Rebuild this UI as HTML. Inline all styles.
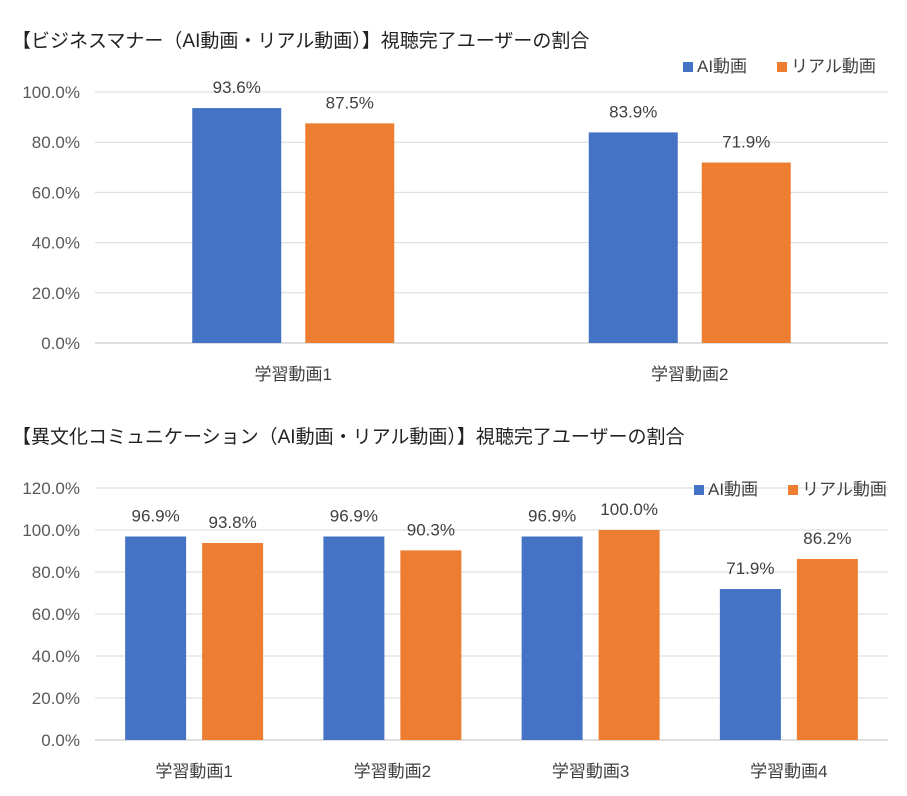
<!DOCTYPE html>
<html><head><meta charset="utf-8">
<style>
body{margin:0;background:#fff;width:907px;height:791px;overflow:hidden;font-family:"Liberation Sans","Noto Sans CJK JP",sans-serif;}
svg text{font-family:"Liberation Sans","Noto Sans CJK JP",sans-serif;}
</style></head>
<body>
<svg id="svg" width="907" height="791" xmlns="http://www.w3.org/2000/svg">
<text x="12" y="47" font-size="19" fill="#222">【ビジネスマナー（AI動画・リアル動画）】視聴完了ユーザーの割合</text>
<text x="12" y="443" font-size="19" fill="#222">【異文化コミュニケーション（AI動画・リアル動画）】視聴完了ユーザーの割合</text>
<g id="c1"></g>
<g id="c2"></g>
</svg>
<script>
const cats1=["学習動画1","学習動画2"];
const ai1=[93.6,83.9];
const real1=[87.5,71.9];
const ticks1=[0,20,40,60,80,100];
const cats2=["学習動画1","学習動画2","学習動画3","学習動画4"];
const ai2=[96.9,96.9,96.9,71.9];
const real2=[93.8,90.3,100.0,86.2];
const ticks2=[0,20,40,60,80,100,120];
const NS="http://www.w3.org/2000/svg";
function mk(g,t,a,txt){const e=document.createElementNS(NS,t);for(const k in a)e.setAttribute(k,a[k]);if(txt!==undefined)e.textContent=txt;g.appendChild(e);return e;}
function chart(g,cats,ai,real,ticks,o){
  const x0=95,x1=888,yv=v=>o.y0-(v/o.max)*(o.y0-o.yTop);
  ticks.forEach(t=>{
    const l=mk(g,"line",{x1:x0,x2:x1,y1:yv(t),y2:yv(t),stroke:t===0?"#bfbfbf":"#d9d9d9","stroke-width":1});
    
    const tx=mk(g,"text",{x:80,y:yv(t)+6,"text-anchor":"end","font-size":17,fill:"#595959"},t.toFixed(1)+"%");
    
  });
  const cw=(x1-x0)/cats.length;
  cats.forEach((c,i)=>{
    const cx=x0+cw*(i+0.5);
    [[ai[i],"#4472C4",cx-o.gap/2-o.bw],[real[i],"#ED7D31",cx+o.gap/2]].forEach(([v,col,bx],j)=>{
      const r=mk(g,"rect",{x:bx,y:yv(v),width:o.bw,height:o.y0-yv(v),fill:col});
      
      const t=mk(g,"text",{x:bx+o.bw/2,y:yv(v)-15,"text-anchor":"middle","font-size":17,fill:"#404040"},v.toFixed(1)+"%");
      
    });
    const cl=mk(g,"text",{x:cx,y:o.y0+37,"text-anchor":"middle","font-size":17,fill:"#404040"},c);
    
  });
  const lg=mk(g,"g",{});
  
  mk(lg,"rect",{x:o.lx,y:o.ly-10,width:10,height:10,fill:"#4472C4"});
  mk(lg,"text",{x:o.lx+14,y:o.ly,"font-size":17,fill:"#404040"},"AI動画");
  mk(lg,"rect",{x:o.lx+94,y:o.ly-10,width:10,height:10,fill:"#ED7D31"});
  mk(lg,"text",{x:o.lx+108,y:o.ly,"font-size":17,fill:"#404040"},"リアル動画");
}
chart(document.getElementById("c1"),cats1,ai1,real1,ticks1,{y0:343,yTop:92,max:100,bw:89,gap:24,lx:683,ly:72});
chart(document.getElementById("c2"),cats2,ai2,real2,ticks2,{y0:740,yTop:488,max:120,bw:61,gap:16,lx:694,ly:495});
</script>
</body></html>
